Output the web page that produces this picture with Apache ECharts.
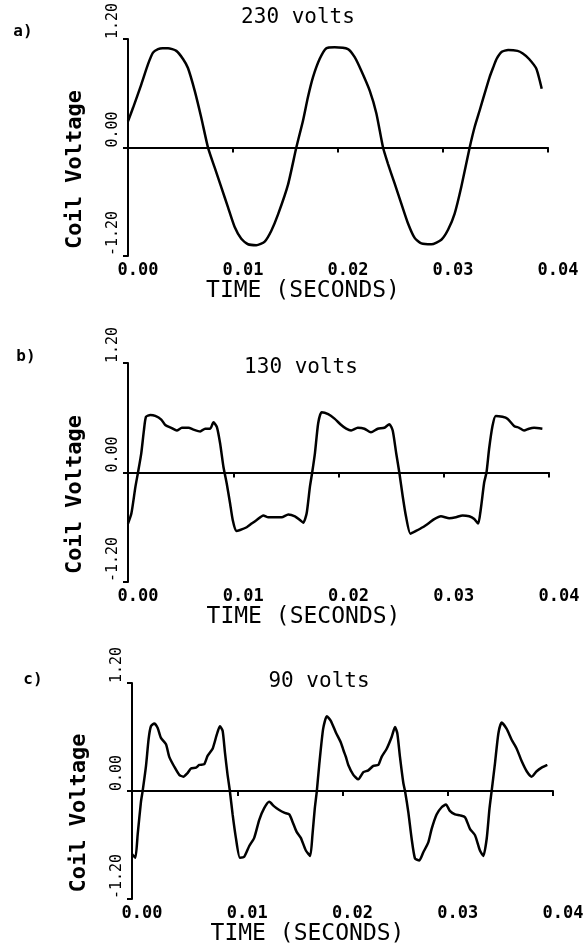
<!DOCTYPE html>
<html lang="en">
  <head>
    <meta charset="UTF-8" />
    <title>Coil Voltage traces at 230, 130 and 90 volts</title>
    <style>
      * {
        margin: 0;
        padding: 0;
      }
      #main {
        width: 587px;
        height: 947px;
        background: #fff;
      }
    </style>
  </head>
  <body>
    <div id="main"></div>
    <script src="https://cdn.jsdelivr.net/npm/echarts@6/dist/echarts.min.js"></script>
    <script>
      // traces: time in milliseconds, coil voltage
      var timeA = [0, 0.48, 1.27, 1.9, 2.38, 2.86, 3.3, 3.81, 4.6, 5.24, 5.71, 6.35, 6.98, 7.62, 8.25, 8.89, 9.52, 10.16, 10.79, 11.43, 12.22, 13.02, 13.65, 14.29, 15.24, 16.03, 16.67, 17.14, 17.62, 18.25, 18.89, 19.68, 20.95, 21.59, 22.22, 23.02, 23.65, 24.29, 24.76, 25.4, 26.03, 26.67, 27.3, 27.94, 28.89, 29.84, 30.48, 31.11, 31.75, 32.54, 33.02, 33.49, 33.97, 34.44, 34.76, 35.1, 35.6, 36.2, 37.1, 37.6, 38.2, 38.9, 39.4];
      var voltA = [0.29, 0.44, 0.7, 0.92, 1.05, 1.09, 1.1, 1.1, 1.07, 0.98, 0.88, 0.63, 0.33, 0, -0.22, -0.44, -0.66, -0.88, -1.01, -1.07, -1.08, -1.04, -0.92, -0.74, -0.41, 0, 0.3, 0.56, 0.78, 0.98, 1.1, 1.11, 1.09, 1.0, 0.85, 0.63, 0.38, 0, -0.18, -0.4, -0.62, -0.84, -1.0, -1.06, -1.07, -1.02, -0.91, -0.73, -0.43, 0, 0.23, 0.41, 0.6, 0.78, 0.88, 0.98, 1.06, 1.08, 1.07, 1.04, 0.98, 0.87, 0.65];

      var timeB = [0, 0.32, 0.7, 0.95, 1.26, 1.52, 1.71, 2.12, 2.59, 3.16, 3.54, 4.11, 4.64, 5.12, 5.75, 6.22, 6.86, 7.33, 7.81, 8.12, 8.44, 8.75, 9.07, 9.38, 9.7, 9.95, 10.27, 10.65, 11.28, 11.75, 12.23, 12.86, 13.33, 13.97, 14.6, 15.23, 15.86, 16.33, 16.65, 16.97, 17.28, 17.5, 17.76, 18.07, 18.39, 19.02, 19.62, 20.26, 20.73, 21.2, 21.83, 22.46, 23.08, 23.73, 24.35, 24.83, 25.15, 25.47, 25.78, 26.1, 26.41, 26.83, 27.36, 28.0, 28.63, 29.1, 29.73, 30.52, 31.15, 31.79, 32.42, 32.9, 33.27, 33.52, 33.84, 34.06, 34.31, 34.63, 34.94, 35.58, 36.05, 36.68, 37.16, 37.63, 38.1, 38.58, 39.37];
      var voltB = [-0.56, -0.45, -0.16, 0, 0.21, 0.47, 0.61, 0.63, 0.62, 0.58, 0.52, 0.49, 0.46, 0.49, 0.49, 0.47, 0.45, 0.48, 0.48, 0.55, 0.5, 0.32, 0.06, -0.12, -0.34, -0.52, -0.64, -0.63, -0.6, -0.56, -0.52, -0.47, -0.49, -0.49, -0.49, -0.46, -0.48, -0.52, -0.55, -0.45, -0.16, 0, 0.21, 0.54, 0.66, 0.64, 0.59, 0.52, 0.48, 0.46, 0.49, 0.48, 0.44, 0.48, 0.49, 0.53, 0.46, 0.22, 0, -0.26, -0.48, -0.67, -0.64, -0.6, -0.55, -0.51, -0.48, -0.5, -0.49, -0.47, -0.48, -0.51, -0.56, -0.4, -0.11, 0, 0.26, 0.51, 0.62, 0.61, 0.59, 0.51, 0.49, 0.46, 0.48, 0.49, 0.48];

      var timeC = [0, 0.32, 0.54, 0.85, 1.01, 1.33, 1.58, 1.8, 2.12, 2.44, 2.75, 3.23, 3.54, 4.02, 4.49, 4.87, 5.28, 5.6, 6.08, 6.39, 6.87, 7.18, 7.66, 8.04, 8.35, 8.61, 8.83, 9.08, 9.3, 9.56, 9.87, 10.25, 10.66, 11.14, 11.61, 12.09, 12.56, 13.04, 13.51, 13.99, 14.46, 14.94, 15.25, 15.63, 16.04, 16.52, 16.93, 17.15, 17.37, 17.56, 17.78, 18.16, 18.51, 18.89, 19.37, 19.84, 20.1, 20.32, 20.55, 21.03, 21.5, 21.98, 22.45, 22.93, 23.4, 23.72, 24.2, 24.67, 24.99, 25.21, 25.46, 25.78, 25.94, 26.26, 26.57, 26.89, 27.3, 27.68, 28.15, 28.47, 28.94, 29.42, 29.83, 30.2, 30.69, 31.16, 31.64, 32.11, 32.59, 33.06, 33.38, 33.7, 33.96, 34.17, 34.49, 34.81, 35.12, 35.6, 36.07, 36.55, 37.03, 37.5, 37.97, 38.45, 38.92, 39.46];
      var voltC = [-0.7, -0.74, -0.48, -0.12, 0, 0.28, 0.58, 0.72, 0.75, 0.7, 0.59, 0.52, 0.38, 0.27, 0.18, 0.16, 0.2, 0.25, 0.26, 0.29, 0.3, 0.39, 0.47, 0.62, 0.72, 0.67, 0.43, 0.18, 0, -0.26, -0.52, -0.74, -0.73, -0.61, -0.52, -0.32, -0.19, -0.12, -0.17, -0.21, -0.24, -0.26, -0.34, -0.45, -0.52, -0.66, -0.72, -0.48, -0.19, 0, 0.28, 0.69, 0.83, 0.78, 0.65, 0.54, 0.45, 0.38, 0.29, 0.18, 0.13, 0.21, 0.23, 0.28, 0.29, 0.38, 0.47, 0.6, 0.71, 0.64, 0.38, 0.09, 0, -0.24, -0.53, -0.75, -0.77, -0.68, -0.57, -0.42, -0.26, -0.18, -0.15, -0.22, -0.26, -0.27, -0.29, -0.42, -0.49, -0.66, -0.72, -0.53, -0.2, 0, 0.31, 0.64, 0.76, 0.69, 0.57, 0.47, 0.33, 0.22, 0.16, 0.22, 0.26, 0.29];

      var panelLetters = ["a)", "b)", "c)"];
      var panelTitles = ["230 volts", "130 volts", "90 volts"];
      var timeRange = [0, 0.04]; // seconds
      var timeStep = 0.01;
      var voltRange = [-1.2, 1.2];
      var voltStep = 1.2;

      // plotter-like lettering
      var font = '"DejaVu Sans Mono", monospace';

      // where each panel sits on the page
      var panels = [
        { grid: { left: 128, top: 39, width: 420, height: 217 }, letterAt: [23, 32], titleAt: [298, 18] },
        { grid: { left: 128, top: 363, width: 421, height: 219 }, letterAt: [26, 357], titleAt: [301, 368] },
        { grid: { left: 132, top: 683, width: 421, height: 218 }, letterAt: [33, 680], titleAt: [319, 682] },
      ];

      var traces = [
        [timeA, voltA],
        [timeB, voltB],
        [timeC, voltC],
      ];

      // build [seconds, volts] pairs
      function toPairs(times, volts) {
        var out = [];
        for (var i = 0; i < times.length; i++) {
          out.push([times[i] / 1000, volts[i]]);
        }
        return out;
      }

      var grid = [];
      var xAxis = [];
      var yAxis = [];
      var series = [];
      var graphic = [];

      for (let i = 0; i < panels.length; i++) {
        grid.push(panels[i].grid);
        xAxis.push({
          type: "value",
          gridIndex: i,
          min: timeRange[0],
          max: timeRange[1],
          interval: timeStep,
          name: "TIME (SECONDS)",
          nameLocation: "middle",
          nameGap: 22,
          nameTextStyle: {
            color: "#000",
            fontFamily: font,
            fontSize: 23,
            padding: [0, 70, 0, 0],
          },
          axisLine: { lineStyle: { color: "#000", width: 2 } },
          axisTick: { length: 5, lineStyle: { color: "#000", width: 2 } },
          axisLabel: {
            color: "#000",
            fontFamily: font,
            fontWeight: "bold",
            fontSize: 17,
            margin: 6,
            padding: [0, 0, 0, 20],
            formatter: function (v) {
              return v.toFixed(2);
            },
          },
          splitLine: { show: false },
        });
        yAxis.push({
          type: "value",
          gridIndex: i,
          min: voltRange[0],
          max: voltRange[1],
          interval: voltStep,
          name: "Coil Voltage",
          nameLocation: "middle",
          nameRotate: 90,
          nameGap: 42,
          nameTextStyle: {
            color: "#000",
            fontFamily: font,
            fontWeight: "bold",
            fontSize: 22,
            padding: [0, 44, 0, 0],
          },
          axisLine: { lineStyle: { color: "#000", width: 2 } },
          axisTick: { length: 5, lineStyle: { color: "#000", width: 2 } },
          axisLabel: {
            color: "#000",
            fontFamily: font,
            fontSize: 15,
            rotate: 90,
            align: "left",
            margin: 7,
            formatter: function (v) {
              return v.toFixed(2);
            },
          },
          splitLine: { show: false },
        });
        series.push({
          type: "line",
          xAxisIndex: i,
          yAxisIndex: i,
          data: toPairs(traces[i][0], traces[i][1]),
          showSymbol: false,
          smooth: 0.2,
          lineStyle: { color: "#000", width: 2.5 },
          // the zero reference line
          markLine: {
            silent: true,
            symbol: "none",
            label: { show: false },
            lineStyle: { color: "#000", width: 2, type: "solid" },
            data: [{ yAxis: 0 }],
          },
          animation: false,
        });
        graphic.push({
          type: "text",
          x: panels[i].letterAt[0],
          y: panels[i].letterAt[1],
          style: {
            text: panelLetters[i],
            font: "bold 16px " + font,
            fill: "#000",
            align: "center",
            verticalAlign: "middle",
          },
        });
        graphic.push({
          type: "text",
          x: panels[i].titleAt[0],
          y: panels[i].titleAt[1],
          style: {
            text: panelTitles[i],
            font: "21px " + font,
            fill: "#000",
            align: "center",
            verticalAlign: "middle",
          },
        });
      }

      var myChart = echarts.init(document.getElementById("main"));
      myChart.setOption({
        backgroundColor: "#fff",
        animation: false,
        grid: grid,
        xAxis: xAxis,
        yAxis: yAxis,
        series: series,
        graphic: graphic,
      });
    </script>
  </body>
</html>
